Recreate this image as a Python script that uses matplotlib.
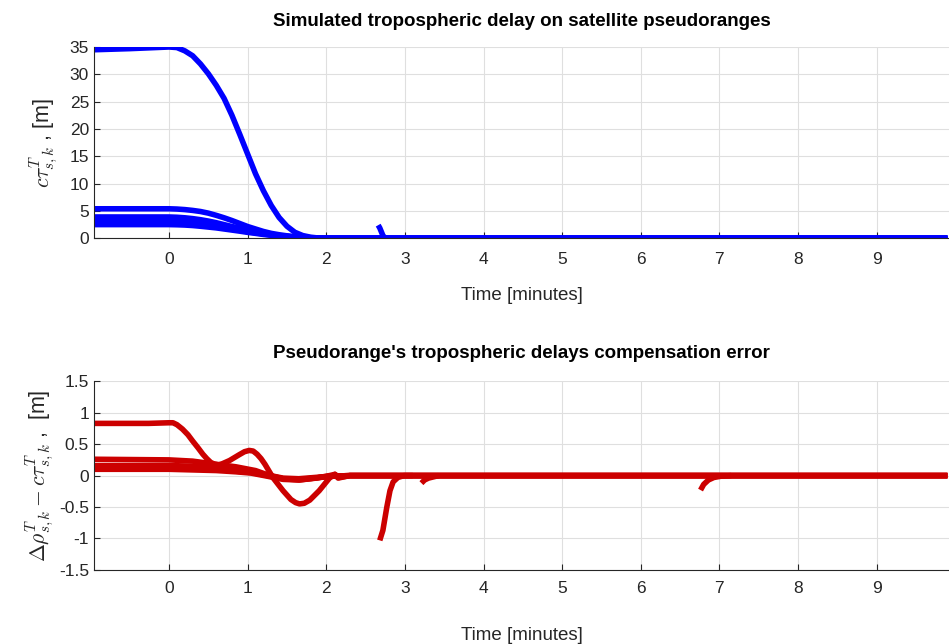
import matplotlib
matplotlib.use('Agg')
from matplotlib import pyplot as plt
from matplotlib.ticker import FuncFormatter

plt.rcParams['font.family'] = ['Liberation Sans', 'DejaVu Sans']
plt.rcParams['mathtext.fontset'] = 'cm'

# --- top panel: simulated tropospheric delay [m] ---
t_big = [-0.95, -0.5, 0.0, 0.1, 0.2, 0.3, 0.4, 0.5, 0.6, 0.7, 0.8, 0.9, 1.0,
         1.1, 1.2, 1.3, 1.4, 1.5, 1.6, 1.7, 1.8, 1.9, 2.0, 9.9]
v_big = [34.5, 34.7, 35.0, 34.9, 34.3, 33.4, 31.9, 30.1, 28.0, 25.6, 22.5, 19.0, 15.4,
         11.8, 8.7, 6.0, 3.8, 2.2, 1.1, 0.5, 0.2, 0.05, 0.0, 0.0]

t_mid = [-0.95, 0.0, 0.1, 0.2, 0.3, 0.4, 0.5, 0.6, 0.7, 0.8, 0.9, 1.0, 1.1, 1.2,
         1.3, 1.4, 1.5, 1.6, 1.7, 1.8, 1.9, 2.0, 9.9]
v_mid = [5.4, 5.4, 5.35, 5.25, 5.1, 4.9, 4.6, 4.2, 3.75, 3.25, 2.7, 2.15, 1.7, 1.25,
         0.9, 0.65, 0.45, 0.3, 0.2, 0.1, 0.05, 0.0, 0.0]

t_low = [-0.95, 0.0, 0.1, 0.2, 0.3, 0.4, 0.5, 0.6, 0.7, 0.8, 0.9, 1.0, 1.1, 1.2,
         1.3, 1.4, 1.5, 1.6, 1.7, 1.8, 1.9, 2.0, 9.9]
v_low = [[3.9, 3.9, 3.85, 3.75, 3.6, 3.4, 3.15, 2.85, 2.5, 2.15, 1.85, 1.5, 1.2, 0.95,
          0.7, 0.5, 0.35, 0.22, 0.13, 0.07, 0.03, 0.0, 0.0],
         [3.4, 3.4, 3.35, 3.25, 3.1, 2.95, 2.75, 2.5, 2.25, 1.95, 1.65, 1.35, 1.1, 0.85,
          0.65, 0.47, 0.32, 0.2, 0.12, 0.06, 0.03, 0.0, 0.0],
         [2.9, 2.9, 2.85, 2.8, 2.7, 2.55, 2.4, 2.2, 1.95, 1.7, 1.45, 1.2, 1.0, 0.78,
          0.6, 0.43, 0.3, 0.19, 0.11, 0.06, 0.02, 0.0, 0.0],
         [2.5, 2.5, 2.47, 2.42, 2.33, 2.2, 2.05, 1.9, 1.7, 1.5, 1.3, 1.08, 0.9, 0.7,
          0.55, 0.4, 0.27, 0.17, 0.1, 0.05, 0.02, 0.0, 0.0]]

t_spk = [2.66, 2.68, 2.70, 2.72, 2.75]
v_spk = [2.4, 1.9, 1.2, 0.5, 0.0]

# --- bottom panel: compensation error [m] ---
t_a = [-0.95, -0.26, 0.0, 0.05, 0.1, 0.17, 0.24, 0.30, 0.37, 0.43, 0.48, 0.53, 0.58, 0.63,
       0.68, 0.77, 0.89, 0.96, 1.02, 1.07, 1.12, 1.17, 1.22, 1.32, 1.45, 1.55, 1.61, 1.66,
       1.72, 1.79, 1.91, 2.04, 2.11, 2.15, 2.3, 9.9]
v_a = [0.83, 0.83, 0.84, 0.84, 0.81, 0.74, 0.65, 0.55, 0.44, 0.34, 0.27, 0.21, 0.18, 0.17,
       0.19, 0.24, 0.33, 0.38, 0.40, 0.39, 0.34, 0.27, 0.18, -0.03, -0.24, -0.38, -0.43, -0.45,
       -0.44, -0.39, -0.24, -0.04, 0.02, -0.04, 0.0, 0.0]

t_b = [-0.95, 0.0, 0.3, 0.6, 0.85, 1.1, 1.28, 1.45, 1.66, 1.87, 2.04, 2.11, 2.16, 2.3, 9.9]
v_b = [0.26, 0.25, 0.23, 0.18, 0.14, 0.08, 0.0, -0.05, -0.07, -0.04, 0.0, 0.02, -0.03, 0.0, 0.0]

t_c = [-0.95, 0.0, 0.3, 0.6, 0.85, 1.04, 1.25, 1.45, 1.65, 1.85, 2.05, 2.3, 9.9]
v_c = [[0.16, 0.16, 0.15, 0.12, 0.09, 0.06, 0.01, -0.04, -0.05, -0.03, -0.01, 0.0, 0.0],
       [0.13, 0.13, 0.12, 0.10, 0.07, 0.05, 0.0, -0.05, -0.06, -0.04, -0.01, 0.0, 0.0],
       [0.10, 0.10, 0.09, 0.08, 0.06, 0.04, -0.01, -0.06, -0.07, -0.04, -0.01, 0.0, 0.0]]

t_s1 = [2.68, 2.72, 2.77, 2.81, 2.85, 2.91, 2.99, 3.1]
v_s1 = [-1.03, -0.87, -0.5, -0.24, -0.1, -0.03, 0.0, 0.0]

t_s2 = [3.21, 3.25, 3.3, 3.43]
v_s2 = [-0.12, -0.07, -0.04, 0.0]

t_s3 = [6.76, 6.8, 6.86, 6.93, 7.02, 7.15]
v_s3 = [-0.23, -0.14, -0.07, -0.03, -0.01, 0.0]

blue = '#0000FF'
red = '#CC0000'
dark = '#262626'

fig = plt.figure(figsize=(9.49, 6.44), dpi=100)
ax1 = fig.add_axes([0.099, 0.630, 0.901, 0.297])
ax2 = fig.add_axes([0.099, 0.115, 0.901, 0.293])

lw = 4
for ax, series, col in (
        (ax1, [(t_big, v_big), (t_mid, v_mid)] + [(t_low, v) for v in v_low] + [(t_spk, v_spk)], blue),
        (ax2, [(t_a, v_a), (t_b, v_b)] + [(t_c, v) for v in v_c] +
              [(t_s1, v_s1), (t_s2, v_s2), (t_s3, v_s3)], red)):
    for t, v in series:
        ax.plot(t, v, color=col, lw=lw, solid_capstyle='butt', solid_joinstyle='round')

fmt = FuncFormatter(lambda x, p: ('%g' % x).replace('\u2212', '-'))

for ax in (ax1, ax2):
    ax.set_xlim(-0.955, 9.92)
    ax.set_xticks(range(0, 10))
    ax.grid(True, color='#DFDFDF', lw=0.8)
    ax.set_axisbelow(True)
    for s in ('top', 'right'):
        ax.spines[s].set_visible(False)
    for s in ('left', 'bottom'):
        ax.spines[s].set_color(dark)
        ax.spines[s].set_linewidth(0.8)
    ax.tick_params(direction='in', length=4, colors=dark, labelsize=12.5, width=0.8)
    ax.yaxis.set_major_formatter(fmt)

ax1.tick_params(axis='x', pad=10)
ax2.tick_params(axis='x', pad=8)
ax1.set_xlabel('Time [minutes]', fontsize=13.5, color=dark, labelpad=14)
ax2.set_xlabel('Time [minutes]', fontsize=13.5, color=dark, labelpad=22)

ax1.set_ylim(0, 35)
ax1.set_yticks(range(0, 36, 5))
ax1.set_title('Simulated tropospheric delay on satellite pseudoranges',
              fontsize=13.5, fontweight='bold', pad=15)
ax1.set_ylabel(r'$c\tau^T_{s,k}$ , [m]', fontsize=15.5, color=dark, labelpad=7)

ax2.set_ylim(-1.5, 1.5)
ax2.set_yticks([-1.5, -1, -0.5, 0, 0.5, 1, 1.5])
ax2.set_title("Pseudorange's tropospheric delays compensation error",
              fontsize=13.5, fontweight='bold', pad=17)
ax2.set_ylabel(r'$\Delta\rho^T_{s,k} - c\tau^T_{s,k}$ ,  [m]', fontsize=15.5, color=dark, labelpad=2)

fig.savefig('out.png', dpi=100)
